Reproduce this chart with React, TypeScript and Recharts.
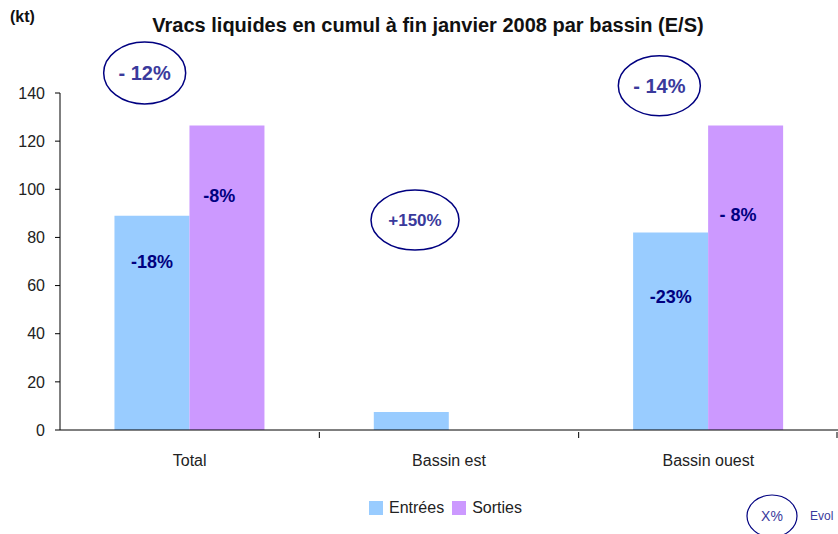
import { BarChart, Bar, XAxis, YAxis, ReferenceDot } from 'recharts'

const categories = ['Total', 'Bassin est', 'Bassin ouest']
const entrees = [89, 7.5, 82]
const sorties = [126.5, 0, 126.5]
const yTicks = [0, 20, 40, 60, 80, 100, 120, 140]

// evolution tags printed inside the bars, and the level (kt) they sit at
const entreesTags = ['-18%', '', '-23%']
const entreesTagAt = [69.8, 0, 55.2]
const sortiesTags = ['-8%', '', '- 8%']
const sortiesTagAt = [97.2, 0, 89.3]

// circled evolution per basin, and the level (kt) of the circle's centre
const basinEvol = ['- 12%', '+150%', '- 14%']
const basinEvolAt = [148.3, 87.2, 143]

const series = [
  { key: 'entrees', label: 'Entrées', color: '#99CCFF' },
  { key: 'sorties', label: 'Sorties', color: '#CC99FF' },
]

const W = 838
const H = 534
const AXIS_W = 60
const RIGHT = 0
const GAP = 0.21
const band = (W - AXIS_W - RIGHT) / categories.length
const barW = (band * (1 - 2 * GAP)) / 2
const circleShift = [-45, -34, -49]
const circleSize = [
  { rx: 41, ry: 31, fs: 20 },
  { rx: 44, ry: 30, fs: 17 },
  { rx: 41, ry: 30, fs: 20 },
]
const NAVY = '#000080'
const font = '"Liberation Sans", Arial, sans-serif'

const rows = categories.map((name, i) => ({
  name,
  entrees: entrees[i],
  sorties: sorties[i],
}))

function Tag(text: string, shift: number) {
  return (p: any) => (
    <text x={p.cx + shift} y={p.cy} textAnchor="middle" dominantBaseline="central" fill={NAVY}
      fontSize={18} fontWeight="bold" fontFamily={font}>
      {text}
    </text>
  )
}

function CategoryTick(props: any) {
  const { x, y, payload, index } = props
  const left = x - band / 2
  const right = x + band / 2
  return (
    <g>
      {index > 0 && <line x1={left} x2={left} y1={y} y2={y + 6} stroke="#000" />}
      {index === categories.length - 1 && <line x1={right - 1} x2={right - 1} y1={y} y2={y + 6} stroke="#000" />}
      <text x={x} y={y + 34} textAnchor="middle" fill="#222" fontSize={16} fontFamily={font}>
        {payload.value}
      </text>
    </g>
  )
}

function EvolCircle(i: number) {
  return (p: any) => {
    const cx = p.cx + circleShift[i]
    const { rx, ry, fs } = circleSize[i]
    return (
      <g>
        <ellipse cx={cx} cy={p.cy} rx={rx} ry={ry} fill="none" stroke={NAVY} strokeWidth={1.5} />
        <text x={cx} y={p.cy} textAnchor="middle" dominantBaseline="central" fill="#3a3a9c"
          fontSize={fs} fontWeight="bold" fontFamily={font}>
          {basinEvol[i]}
        </text>
      </g>
    )
  }
}

export default function App() {
  return (
    <div style={{ position: 'absolute', left: 0, top: 0, width: W, height: H, background: '#fff', fontFamily: font, overflow: 'hidden' }}>
      <div style={{ position: 'absolute', left: 128, top: 14, width: 600, textAlign: 'center', fontSize: 20, fontWeight: 'bold', color: '#111' }}>
        Vracs liquides en cumul à fin janvier 2008 par bassin (E/S)
      </div>
      <div style={{ position: 'absolute', left: 10, top: 8, fontSize: 16, fontWeight: 'bold', color: '#111' }}>(kt)</div>
      <BarChart width={W} height={H} data={rows} barGap={0} barCategoryGap={`${GAP * 100}%`}
        margin={{ top: 93, right: RIGHT, left: 0, bottom: 64 }}>
        <XAxis dataKey="name" height={40} tickSize={0} tickLine={false} stroke="#000" tick={<CategoryTick />} />
        <YAxis width={AXIS_W} domain={[0, 140]} ticks={yTicks} tickSize={5} tickMargin={10} stroke="#000"
          tick={{ fill: '#222', fontSize: 16, fontFamily: font }} />
        {series.map((s) => (
          <Bar key={s.key} dataKey={s.key} name={s.label} fill={s.color} isAnimationActive={false} />
        ))}
        {categories.map((c, i) =>
          entreesTags[i] ? (
            <ReferenceDot key={'e' + c} x={c} y={entreesTagAt[i]} ifOverflow="visible" shape={Tag(entreesTags[i], -barW / 2)} />
          ) : null
        )}
        {categories.map((c, i) =>
          sortiesTags[i] ? (
            <ReferenceDot key={'s' + c} x={c} y={sortiesTagAt[i]} ifOverflow="visible" shape={Tag(sortiesTags[i], barW / 2 - 8)} />
          ) : null
        )}
        {categories.map((c, i) => (
          <ReferenceDot key={c} x={c} y={basinEvolAt[i]} ifOverflow="visible" shape={EvolCircle(i)} />
        ))}
      </BarChart>
      <div style={{ position: 'absolute', left: 369, top: 499, display: 'flex', alignItems: 'center', fontSize: 16, color: '#222' }}>
        {series.map((s) => (
          <div key={s.key} style={{ display: 'flex', alignItems: 'center', marginRight: 8 }}>
            <span style={{ width: 14, height: 14, background: s.color, marginRight: 6, display: 'inline-block' }} />
            {s.label}
          </div>
        ))}
      </div>
      <svg style={{ position: 'absolute', left: 0, top: 0 }} width={W} height={H}>
        <ellipse cx={772} cy={516} rx={25} ry={21} fill="none" stroke={NAVY} strokeWidth={1.2} />
        <text x={772} y={516} textAnchor="middle" dominantBaseline="central" fill="#3a3a9c" fontSize={14} fontFamily={font}>X%</text>
        <text x={810} y={516} dominantBaseline="central" fill="#3a3a9c" fontSize={12} fontFamily={font}>Evol</text>
      </svg>
    </div>
  )
}
